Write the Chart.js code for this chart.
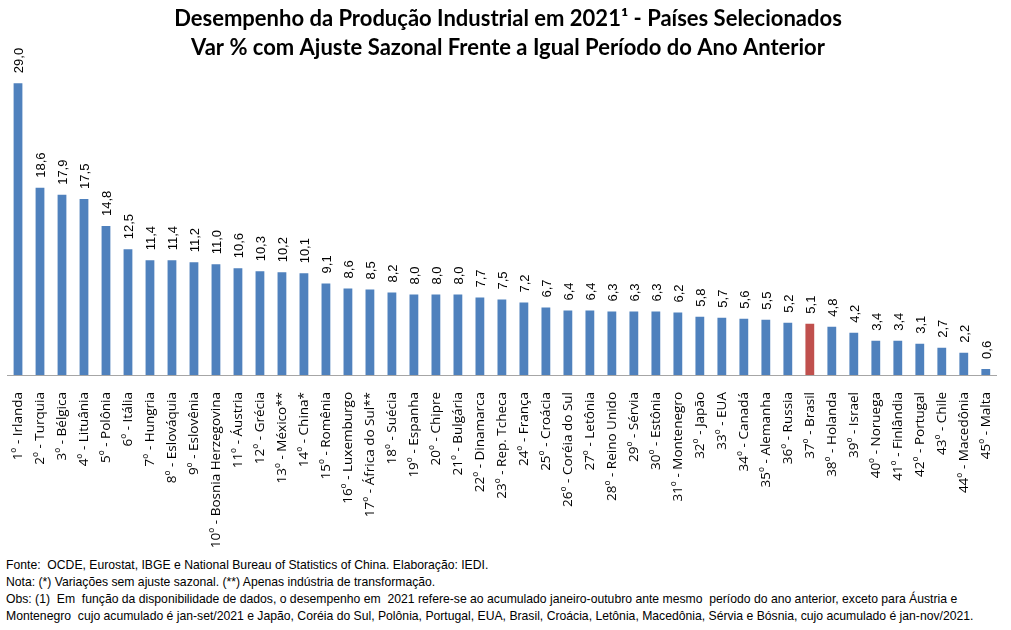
<!DOCTYPE html>
<html lang="pt-BR">
<head>
<meta charset="utf-8">
<title>Desempenho da Produção Industrial em 2021</title>
<script src="https://cdn.jsdelivr.net/npm/chart.js@4/dist/chart.umd.min.js"></script>
<style>
  html, body { margin: 0; padding: 0; background: #fff; }
  #wrap { position: relative; width: 1011px; height: 630px; }
  #chart-box { position: absolute; left: 0; top: 0; width: 1011px; height: 555px; }
  #notes {
    position: absolute; left: 6px; top: 557px; width: 1000px;
    font: 12.2px 'Liberation Sans', Arial, sans-serif; line-height: 17px; color: #000;
  }
  #notes div { white-space: pre; }
</style>
</head>
<body>
<div id="wrap">
  <div id="chart-box"><canvas id="prod-chart"></canvas></div>
  <div id="notes">
    <div>Fonte:  OCDE, Eurostat, IBGE e National Bureau of Statistics of China. Elaboração: IEDI.</div>
    <div>Nota: (*) Variações sem ajuste sazonal. (**) Apenas indústria de transformação.</div>
    <div>Obs: (1)  Em  função da disponibilidade de dados, o desempenho em  2021 refere-se ao acumulado janeiro-outubro ante mesmo  período do ano anterior, exceto para Áustria e</div>
    <div>Montenegro  cujo acumulado é jan-set/2021 e Japão, Coréia do Sul, Polônia, Portugal, EUA, Brasil, Croácia, Letônia, Macedônia, Sérvia e Bósnia, cujo acumulado é jan-nov/2021.</div>
  </div>
</div>

<script>
/* ── Data ── */
const COUNTRIES = [
  'Irlanda', 'Turquia', 'Bélgica', 'Lituânia', 'Polônia', 'Itália', 'Hungria',
  'Eslováquia', 'Eslovênia', 'Bosnia Herzegovina', 'Áustria', 'Grécia',
  'México**', 'China*', 'Romênia', 'Luxemburgo', 'África do Sul**', 'Suécia',
  'Espanha', 'Chipre', 'Bulgária', 'Dinamarca', 'Rep. Tcheca', 'França',
  'Croácia', 'Coréia do Sul', 'Letônia', 'Reino Unido', 'Sérvia', 'Estônia',
  'Montenegro', 'Japão', 'EUA', 'Canadá', 'Alemanha', 'Russia', 'Brasil',
  'Holanda', 'Israel', 'Noruega', 'Finlândia', 'Portugal', 'Chile',
  'Macedônia', 'Malta'
];
const VALUES = [
  29.0, 18.6, 17.9, 17.5, 14.8, 12.5, 11.4,
  11.4, 11.2, 11.0, 10.6, 10.3,
  10.2, 10.1, 9.1, 8.6, 8.5, 8.2,
  8.0, 8.0, 8.0, 7.7, 7.5, 7.2,
  6.7, 6.4, 6.4, 6.3, 6.3, 6.3,
  6.2, 5.8, 5.7, 5.6, 5.5, 5.2, 5.1,
  4.8, 4.2, 3.4, 3.4, 3.1, 2.7,
  2.2, 0.6
];
const HIGHLIGHT = 'Brasil';
const TITLE_LINES = [
  'Desempenho da Produção Industrial em 2021¹ - Países Selecionados',
  'Var % com Ajuste Sazonal Frente a Igual Período do Ano Anterior'
];

/* ── Derived ── */
const LABELS = COUNTRIES.map((c, i) => (i + 1) + 'º - ' + c);
const COLORS = COUNTRIES.map(c => c === HIGHLIGHT ? '#C0504D' : '#4F81BD');

function fmt(v) {
  return v.toFixed(1).replace('.', ',');
}

/* ── Value labels above bars, rotated ── */
const valueLabels = {
  id: 'valueLabels',
  afterDatasetsDraw(chart) {
    const { ctx } = chart;
    const ds = chart.data.datasets[0];
    chart.getDatasetMeta(0).data.forEach((bar, i) => {
      ctx.save();
      ctx.translate(bar.x + 1.5, bar.y - 10);
      ctx.rotate(-Math.PI / 2);
      ctx.textAlign = 'left';
      ctx.textBaseline = 'middle';
      ctx.fillStyle = '#000';
      ctx.font = '13px "Liberation Sans", Arial, sans-serif';
      ctx.fillText(fmt(ds.data[i]), 0, 0);
      ctx.restore();
    });
  },
};

/* ── Chart ── */
new Chart(document.getElementById('prod-chart'), {
  type: 'bar',
  plugins: [valueLabels],
  data: {
    labels: LABELS,
    datasets: [{
      data: VALUES,
      backgroundColor: COLORS,
      borderWidth: 0,
      barPercentage: 0.4,
      categoryPercentage: 1.0,
    }],
  },
  options: {
    responsive: true,
    maintainAspectRatio: false,
    animation: false,
    layout: { padding: { left: 7, right: 2, top: 0, bottom: 7 } },
    plugins: {
      legend: { display: false },
      tooltip: { enabled: false },
      title: {
        display: true,
        text: TITLE_LINES,
        color: '#000',
        font: { family: 'Lato, "Open Sans", sans-serif', size: 22, weight: 'bold', lineHeight: 1.32 },
        padding: { top: 4, bottom: 11 },
      },
    },
    scales: {
      x: {
        grid: { display: false },
        border: { display: true, color: '#A6A6A6', width: 1 },
        ticks: {
          autoSkip: false,
          minRotation: 90,
          maxRotation: 90,
          padding: 9,
          color: '#000',
          font: { family: '"Open Sans", sans-serif', size: 13.5 },
        },
        afterFit: scale => { scale.height = 173; },
      },
      y: {
        display: false,
        min: 0,
        max: 30,
      },
    },
  },
});
</script>
</body>
</html>
